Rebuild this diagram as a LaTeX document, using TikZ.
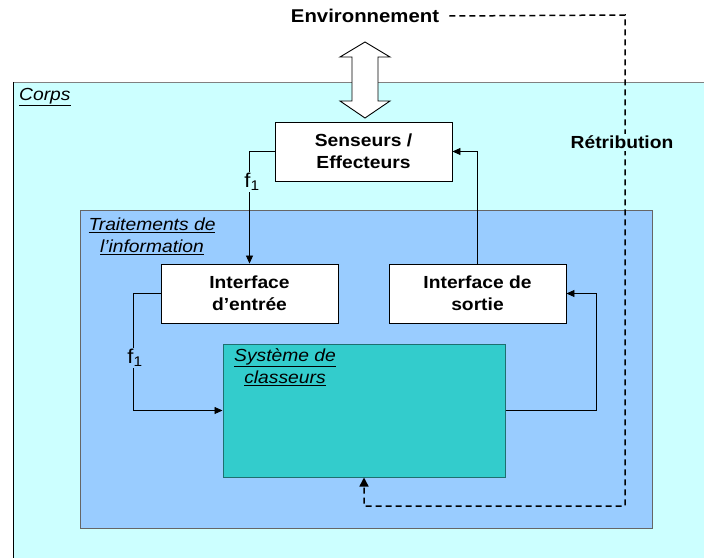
\documentclass[tikz,border=0pt]{standalone}
\usepackage{fontspec}
\setmainfont{Liberation Sans}[FakeStretch=1.1]
\usetikzlibrary{arrows.meta}
\definecolor{corpsc}{HTML}{CCFFFF}
\definecolor{traitc}{HTML}{99CCFF}
\definecolor{sysc}{HTML}{33CCCC}
\definecolor{sysb}{HTML}{1F6F6F}
\tikzset{
  box/.style={draw=black, fill=white, line width=0.9pt, minimum width=177pt, minimum height=59pt, align=center, font=\fontsize{17.5}{22}\selectfont\bfseries, inner sep=0pt},
  conn/.style={draw=black, line width=0.8pt, -{Triangle[length=8pt,width=7pt]}},
  lab/.style={font=\fontsize{17.5}{22}\selectfont\itshape, align=center, inner sep=0pt},
  retr/.style={draw=black, line width=1.5pt, dash pattern=on 6pt off 4pt},
  flab/.style={font=\fontsize{20}{22}\selectfont, inner sep=1pt},
}
\newcommand{\ul}[1]{\underline{#1}}
\begin{document}
\begin{tikzpicture}[x=1pt,y=-1pt]
\useasboundingbox (0,0) rectangle (704,557);
\fill[white] (0,0) rectangle (704,557);
% corps
\fill[corpsc] (13,82) rectangle (710,565);
\draw[gray, line width=0.8pt] (13,82) -- (710,82);
\draw[black, line width=1pt] (13,82) -- (13,565);
\node[lab, anchor=west] (corps) at (19,97) {\ul{Corps}};
% traitements
\draw[fill=traitc, draw=gray!80!black, line width=1pt] (80,210) rectangle (652,528);
\node[lab] (trait) at (152,236) {\ul{Traitements de}\\\ul{l’information}};
% boxes
\node[box] (sens) at (363.5,151.5) {Senseurs /\\Effecteurs};
\node[box] (entree) at (249.5,293.5) {Interface\\d’entrée};
\node[box] (sortie) at (477.5,293.5) {Interface de\\sortie};
\node[draw=sysb, fill=sysc, line width=1pt, minimum width=282pt, minimum height=133pt, inner sep=0pt] (sys) at (364,410.5) {};
\node[lab] (syslab) at (285,367) {\ul{Système de}\\\ul{classeurs}};
% environnement
\node[font=\fontsize{18.5}{22}\selectfont\bfseries, inner sep=2pt] (env) at (365,16) {Environnement};
% double arrow
\draw[fill=white, line width=0.9pt] (365,42) -- (340,57) -- (352,57) -- (352,101) -- (340,101) -- (365,118) -- (390,101) -- (378,101) -- (378,57) -- (390,57) -- cycle;
% connectors
\draw[conn] (sens.west) -| (entree.north);
\node[flab, fill=corpsc] (f1a) at (252,182) {f\textsubscript{1}};
\draw[conn] (entree.west) -- (133,293.5) |- (sys.west);
\node[flab, fill=traitc] (f1b) at (135,358) {f\textsubscript{1}};
\draw[conn] (sortie.north) |- (sens.east);
\draw[conn] (sys.east) -- (596,410.5) |- (sortie.east);
% retribution
\coordinate (r1) at (625,15);
\coordinate (r2) at (625,506);
\coordinate (r3) at (364,506);
\draw[retr, -{Triangle[length=9pt,width=9pt]}] ([xshift=8pt]env.east) -- (r1) -- (r2) -- (r3) -- (sys.south);
\node[fill=corpsc, font=\fontsize{17.5}{22}\selectfont\bfseries, inner sep=2pt] (retri) at (622,142) {Rétribution};
\end{tikzpicture}
\end{document}
